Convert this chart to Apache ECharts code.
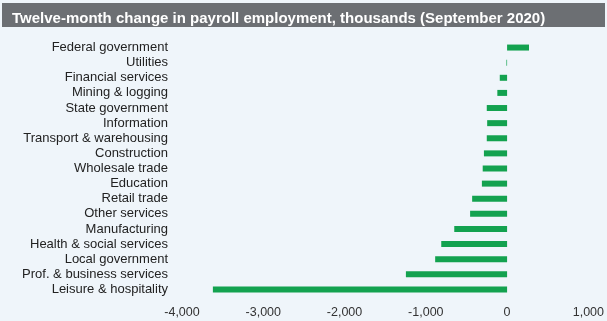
<!DOCTYPE html>
<html><head><meta charset="utf-8">
<script src="https://cdn.jsdelivr.net/npm/echarts@6/dist/echarts.min.js"></script>
<style>html,body{margin:0;padding:0;background:#eff5fa;}#c{width:607px;height:321px;}</style>
</head><body><div id="c"></div>
<script>
var categories = ["Federal government","Utilities","Financial services","Mining & logging","State government","Information","Transport & warehousing","Construction","Wholesale trade","Education","Retail trade","Other services","Manufacturing","Health & social services","Local government","Prof. & business services","Leisure & hospitality"];
var values = [270, -8, -90, -120, -250, -245, -250, -285, -300, -310, -430, -455, -650, -810, -885, -1245, -3620];
var xTicks = {min: -4000, max: 1000, interval: 1000};
var titleText = "Twelve-month change in payroll employment, thousands (September 2020)";

var chart = echarts.init(document.getElementById('c'), null, {renderer:'canvas'});
chart.setOption({
  backgroundColor: '#eff5fa',
  animation: false,
  graphic: [{type:'rect', shape:{x:2,y:3,width:603,height:24}, style:{fill:'#6c6f73'}, z:0}],
  title: {text: titleText, left: 7, top: 6, textStyle:{color:'#ffffff', fontSize:15, fontWeight:'bold', fontFamily:'Liberation Sans, Arial, sans-serif'}},
  grid: {left: 182, right: 17, top: 40, bottom: 24, containLabel:false},
  xAxis: {type:'value', min:xTicks.min, max:xTicks.max, interval:xTicks.interval,
    axisLine:{show:false}, axisTick:{show:false}, splitLine:{show:false},
    axisLabel:{color:'#333', fontSize:12.5, fontFamily:'Liberation Sans, Arial, sans-serif', margin:9,
      formatter:function(v){return v.toLocaleString('en-US');}}},
  yAxis: {type:'category', data:categories, inverse:true,
    axisLine:{show:false}, axisTick:{show:false}, splitLine:{show:false},
    axisLabel:{interval:0, hideOverlap:false, color:'#222', fontSize:13, lineHeight:14, fontFamily:'Liberation Sans, Arial, sans-serif', margin:14}},
  series: [{type:'bar', data:values, barWidth:6, itemStyle:{color:'#13a24f'}}]
});
</script></body></html>
